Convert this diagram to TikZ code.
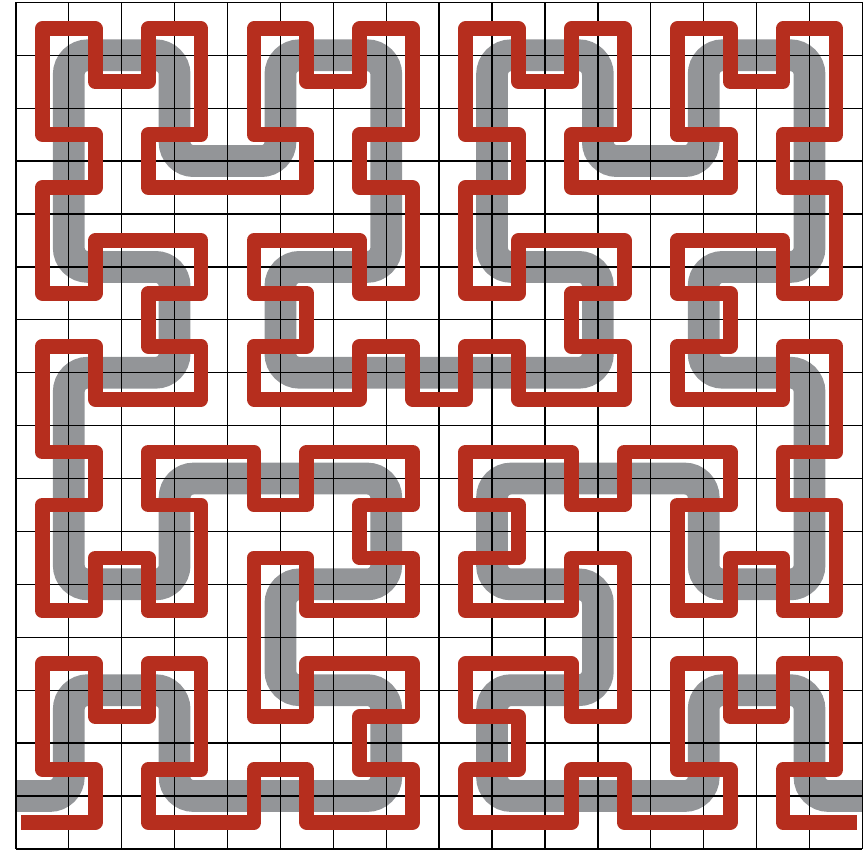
\documentclass[tikz,border=0pt]{standalone}
\usepackage{tikz}
\definecolor{grisCurva}{RGB}{147, 149, 152}
\definecolor{rojoCurva}{RGB}{182, 46, 30}

\begin{document}
\begin{tikzpicture}[
        rejilla/.style={draw=black, line width=0.7pt},
        curvaBase/.style={draw=grisCurva, line width=0.6cm, rounded corners=0.36cm},
        curvaBorde/.style={draw=rojoCurva, line width=0.28cm, line join=round}]
    \useasboundingbox (-0.30,-0.015) rectangle (16.03,16.045);
    % curva de Hilbert (orden 3)
    \draw[curvaBase] (0,1) -- (1,1) -- (1,3) -- (3,3) -- (3,1) -- (5,1) -- (7,1) -- (7,3) -- (5,3)
        -- (5,5) -- (7,5) -- (7,7) -- (5,7) -- (3,7) -- (3,5) -- (1,5) -- (1,7)
        -- (1,9) -- (3,9) -- (3,11) -- (1,11) -- (1,13) -- (1,15) -- (3,15) -- (3,13)
        -- (5,13) -- (5,15) -- (7,15) -- (7,13) -- (7,11) -- (5,11) -- (5,9) -- (7,9)
        -- (9,9) -- (11,9) -- (11,11) -- (9,11) -- (9,13) -- (9,15) -- (11,15) -- (11,13)
        -- (13,13) -- (13,15) -- (15,15) -- (15,13) -- (15,11) -- (13,11) -- (13,9) -- (15,9)
        -- (15,7) -- (15,5) -- (13,5) -- (13,7) -- (11,7) -- (9,7) -- (9,5) -- (11,5)
        -- (11,3) -- (9,3) -- (9,1) -- (11,1) -- (13,1) -- (13,3) -- (15,3) -- (15,1) -- (16,1);
    % rejilla
    \draw[rejilla] (0,0) grid (16,16);
    % contorno
    \draw[curvaBorde] (0.1,0.5) -- (1.5,0.5) -- (1.5,1.5) -- (0.5,1.5) -- (0.5,3.5) -- (1.5,3.5) -- (1.5,2.5)
        -- (2.5,2.5) -- (2.5,3.5) -- (3.5,3.5) -- (3.5,1.5) -- (2.5,1.5) -- (2.5,0.5) -- (4.5,0.5)
        -- (4.5,1.5) -- (5.5,1.5) -- (5.5,0.5) -- (7.5,0.5) -- (7.5,1.5) -- (6.5,1.5) -- (6.5,2.5)
        -- (7.5,2.5) -- (7.5,3.5) -- (5.5,3.5) -- (5.5,2.5) -- (4.5,2.5) -- (4.5,5.5) -- (5.5,5.5)
        -- (5.5,4.5) -- (7.5,4.5) -- (7.5,5.5) -- (6.5,5.5) -- (6.5,6.5) -- (7.5,6.5) -- (7.5,7.5)
        -- (5.5,7.5) -- (5.5,6.5) -- (4.5,6.5) -- (4.5,7.5) -- (2.5,7.5) -- (2.5,6.5) -- (3.5,6.5)
        -- (3.5,4.5) -- (2.5,4.5) -- (2.5,5.5) -- (1.5,5.5) -- (1.5,4.5) -- (0.5,4.5) -- (0.5,6.5)
        -- (1.5,6.5) -- (1.5,7.5) -- (0.5,7.5)
        -- (0.5,9.5) -- (1.5,9.5) -- (1.5,8.5) -- (3.5,8.5) -- (3.5,9.5) -- (2.5,9.5) -- (2.5,10.5)
        -- (3.5,10.5) -- (3.5,11.5) -- (1.5,11.5) -- (1.5,10.5) -- (0.5,10.5) -- (0.5,12.5) -- (1.5,12.5)
        -- (1.5,13.5) -- (0.5,13.5) -- (0.5,15.5) -- (1.5,15.5) -- (1.5,14.5) -- (2.5,14.5) -- (2.5,15.5)
        -- (3.5,15.5) -- (3.5,13.5) -- (2.5,13.5) -- (2.5,12.5) -- (5.5,12.5) -- (5.5,13.5) -- (4.5,13.5)
        -- (4.5,15.5) -- (5.5,15.5) -- (5.5,14.5) -- (6.5,14.5) -- (6.5,15.5) -- (7.5,15.5) -- (7.5,13.5)
        -- (6.5,13.5) -- (6.5,12.5) -- (7.5,12.5) -- (7.5,10.5) -- (6.5,10.5) -- (6.5,11.5) -- (4.5,11.5)
        -- (4.5,10.5) -- (5.5,10.5) -- (5.5,9.5) -- (4.5,9.5) -- (4.5,8.5) -- (6.5,8.5) -- (6.5,9.5)
        -- (7.5,9.5) -- (7.5,8.5)
        -- (8.5,8.5) -- (8.5,9.5) -- (9.5,9.5) -- (9.5,8.5) -- (11.5,8.5) -- (11.5,9.5) -- (10.5,9.5)
        -- (10.5,10.5) -- (11.5,10.5) -- (11.5,11.5) -- (9.5,11.5) -- (9.5,10.5) -- (8.5,10.5) -- (8.5,12.5)
        -- (9.5,12.5) -- (9.5,13.5) -- (8.5,13.5) -- (8.5,15.5) -- (9.5,15.5) -- (9.5,14.5) -- (10.5,14.5)
        -- (10.5,15.5) -- (11.5,15.5) -- (11.5,13.5) -- (10.5,13.5) -- (10.5,12.5) -- (13.5,12.5) -- (13.5,13.5)
        -- (12.5,13.5) -- (12.5,15.5) -- (13.5,15.5) -- (13.5,14.5) -- (14.5,14.5) -- (14.5,15.5) -- (15.5,15.5)
        -- (15.5,13.5) -- (14.5,13.5) -- (14.5,12.5) -- (15.5,12.5) -- (15.5,10.5) -- (14.5,10.5) -- (14.5,11.5)
        -- (12.5,11.5) -- (12.5,10.5) -- (13.5,10.5) -- (13.5,9.5) -- (12.5,9.5) -- (12.5,8.5) -- (14.5,8.5)
        -- (14.5,9.5) -- (15.5,9.5)
        -- (15.5,7.5) -- (14.5,7.5) -- (14.5,6.5) -- (15.5,6.5) -- (15.5,4.5) -- (14.5,4.5) -- (14.5,5.5)
        -- (13.5,5.5) -- (13.5,4.5) -- (12.5,4.5) -- (12.5,6.5) -- (13.5,6.5) -- (13.5,7.5) -- (11.5,7.5)
        -- (11.5,6.5) -- (10.5,6.5) -- (10.5,7.5) -- (8.5,7.5) -- (8.5,6.5) -- (9.5,6.5) -- (9.5,5.5)
        -- (8.5,5.5) -- (8.5,4.5) -- (10.5,4.5) -- (10.5,5.5) -- (11.5,5.5) -- (11.5,2.5) -- (10.5,2.5)
        -- (10.5,3.5) -- (8.5,3.5) -- (8.5,2.5) -- (9.5,2.5) -- (9.5,1.5) -- (8.5,1.5) -- (8.5,0.5)
        -- (10.5,0.5) -- (10.5,1.5) -- (11.5,1.5) -- (11.5,0.5) -- (13.5,0.5) -- (13.5,1.5) -- (12.5,1.5)
        -- (12.5,3.5) -- (13.5,3.5) -- (13.5,2.5) -- (14.5,2.5) -- (14.5,3.5) -- (15.5,3.5) -- (15.5,1.5)
        -- (14.5,1.5) -- (14.5,0.5) -- (15.9,0.5);
\end{tikzpicture}
\end{document}
